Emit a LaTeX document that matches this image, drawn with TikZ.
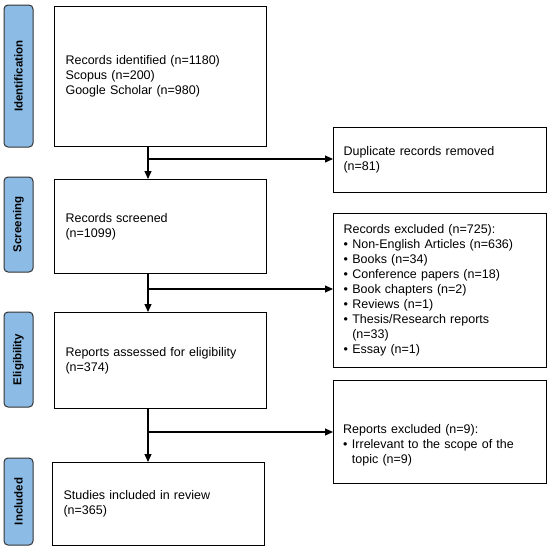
\documentclass[tikz,border=0pt]{standalone}
\usepackage{fontspec}
\setmainfont{Liberation Sans}
\usetikzlibrary{arrows.meta,positioning}
\definecolor{phase}{RGB}{140,188,230}
\newcommand{\blt}{\textbullet\hspace{0.35em}}
\newcommand{\bltgap}{\phantom{\textbullet}\hspace{0.35em}}

\begin{document}
\begin{tikzpicture}[
    x=1pt, y=-1pt,
    font=\fontsize{12.5}{15}\selectfont,
    mainbox/.style={draw, line width=1.1pt, anchor=north west, align=left, inner xsep=11pt, text width=190pt, minimum width=212pt},
    sidebox/.style={draw, line width=1.1pt, anchor=north west, align=left, inner xsep=10pt, text width=193pt, minimum width=213pt},
    phasebox/.style={draw=black!80, fill=phase, line width=1pt, rounded corners=4pt, rotate=90, minimum height=29pt, font=\fontsize{11.5}{14}\selectfont\bfseries},
    arrow/.style={-{Triangle[length=8pt,width=7pt]}, line width=1.1pt},
    link/.style={line width=1.1pt}
]
\useasboundingbox (0,0) rectangle (550,550);
% phase labels
\node[phasebox, minimum width=142pt] (idlab) at (18.5,76) {Identification};
\node[phasebox, minimum width=95pt] (scrlab) at (18.5,224.5) {Screening};
\node[phasebox, minimum width=95pt] (eliglab) at (18.5,359.5) {Eligibility};
\node[phasebox, minimum width=87pt] (incllab) at (18.5,501.5) {Included};
% main flow
\node[mainbox, minimum height=140pt] (ident) at (54,6) {Records identified (n=1180)\\Scopus (n=200)\\Google Scholar (n=980)};
\node[mainbox, minimum height=94pt] (screen) at (54,179) {Records screened\\(n=1099)};
\node[mainbox, minimum height=96pt] (elig) at (54,312) {Reports assessed for eligibility\\(n=374)};
\node[mainbox, minimum height=83pt] (incl) at (52,462) {Studies included in review\\(n=365)};
% exclusions
\node[sidebox, minimum height=65pt] (dup) at (333,127) {Duplicate records removed\\(n=81)};
\node[sidebox, minimum height=154pt] (recx) at (333,213) {Records excluded (n=725):\\
\blt Non-English Articles (n=636)\\
\blt Books (n=34)\\
\blt Conference papers (n=18)\\
\blt Book chapters (n=2)\\
\blt Reviews (n=1)\\
\blt Thesis/Research reports\\
\bltgap(n=33)\\
\blt Essay (n=1)};
\node[sidebox, minimum height=103pt] (repx) at (333,380) {};
\node[anchor=west, align=left, inner sep=0pt, text width=193pt] (repxtxt) at ([xshift=10pt,yshift=-13pt]repx.west) {Reports excluded (n=9):\\
\blt Irrelevant to the scope of the\\
\bltgap topic (n=9)};
% branch points
\coordinate (b1) at (148,159);
\coordinate (b2) at (148,289);
\coordinate (b3) at (148,432);
\draw[arrow] (ident.south -| b1) -- (screen.north -| b1);
\draw[arrow] (screen.south -| b2) -- (elig.north -| b2);
\draw[arrow] (elig.south -| b3) -- (incl.north -| b3);
\draw[arrow] (b1) -- (b1 -| dup.west);
\draw[arrow] (b2) -- (b2 -| recx.west);
\draw[arrow] (b3) -- (b3 -| repx.west);
\end{tikzpicture}
\end{document}
